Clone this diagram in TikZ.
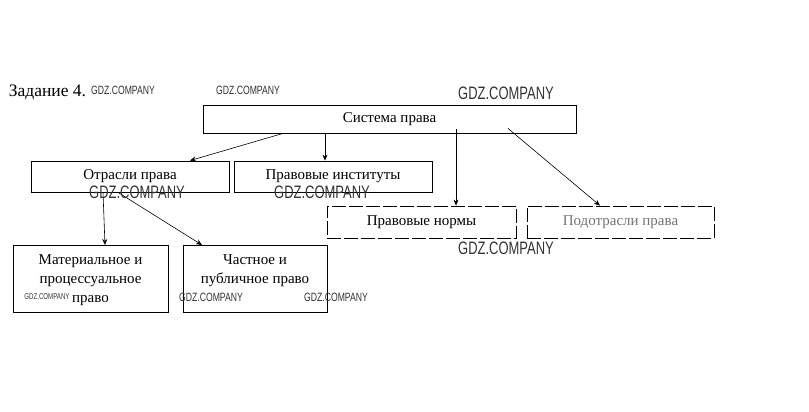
\documentclass[tikz,border=0pt]{standalone}
\usepackage{fontspec}
\setmainfont{Liberation Serif}
\newfontfamily\wmfont{Liberation Sans}
\usetikzlibrary{arrows.meta}
\begin{document}
\begin{tikzpicture}[x=1pt,y=-1pt,
  box/.style={draw,line width=0.8pt,inner sep=0pt,font=\fontsize{15}{19}\selectfont},
  dbox/.style={box,dash pattern=on 14pt off 3pt},
  txt/.style={inner sep=0pt,align=center,anchor=north,font=\fontsize{15}{19}\selectfont},
  arr/.style={-{Stealth[length=6pt,width=5pt]},line width=0.6pt},
  wm/.style={font=\wmfont,text=black!80,inner sep=0pt,xscale=0.72,transform shape},
  wmS/.style={wm,font=\wmfont\fontsize{12}{12}\selectfont},
  wmL/.style={wm,font=\wmfont\fontsize{18}{18}\selectfont},
  wmT/.style={wm,font=\wmfont\fontsize{8.5}{8.5}\selectfont}]
\useasboundingbox (0,0) rectangle (809,412);
\node[inner sep=0pt,font=\fontsize{17.5}{17.5}\selectfont] (title) at (47.5,92) {Задание 4.};
% boxes
\node[box,minimum width=373pt,minimum height=28pt] (sys) at (389.5,119) {Система права};
\node[box,minimum width=198pt,minimum height=31pt] (otr) at (130,176.5) {Отрасли права};
\node[box,minimum width=198pt,minimum height=31pt] (inst) at (333,176.5) {Правовые институты};
\node[dbox,minimum width=189pt,minimum height=32pt] (norm) at (421.5,222) {Правовые нормы};
\node[dbox,minimum width=187pt,minimum height=32pt,text=black!55] (podotr) at (620.5,222) {Подотрасли права};
\node[box,minimum width=155pt,minimum height=67pt,anchor=north] (mat) at (90.5,245) {};
\node[txt] (matt) at ([yshift=-9pt]mat.north) {Материальное и\\процессуальное\\право};
\node[box,minimum width=144pt,minimum height=67pt,anchor=north] (chast) at (255,245) {};
\node[txt] (chastt) at ([yshift=-9pt]chast.north) {Частное и\\публичное право};
% connectors
\draw[arr] ([xshift=-106.5pt]sys.south) -- ([xshift=60pt]otr.north);
\draw[arr] (sys.south -| inst.north) ++(-8pt,0) coordinate (a1) -- (a1 |- inst.north);
\draw[arr] ([xshift=66.5pt,yshift=4pt]sys.south) -- ([xshift=34.5pt]norm.north);
\draw[arr] ([xshift=118.5pt,yshift=5pt]sys.south) -- ([xshift=-20.5pt]podotr.north);
\draw[arr] ([xshift=-27pt]otr.south) -- ([xshift=14.5pt]mat.north);
\draw[arr] ([xshift=-12pt]otr.south) -- ([xshift=-53pt]chast.north);
% watermarks
\node[wmS] (w1) at (123,90) {GDZ.COMPANY};
\node[wmS] (w2) at (248,90) {GDZ.COMPANY};
\node[wmL] (w3) at (506,93) {GDZ.COMPANY};
\node[wmL] (w4) at (137,192) {GDZ.COMPANY};
\node[wmL] (w5) at (322,192) {GDZ.COMPANY};
\node[wmL] (w6) at (506,248) {GDZ.COMPANY};
\node[wmT] (w7) at (47,297) {GDZ.COMPANY};
\node[wmS] (w8) at (211,297) {GDZ.COMPANY};
\node[wmS] (w9) at (336,297) {GDZ.COMPANY};
\end{tikzpicture}
\end{document}
